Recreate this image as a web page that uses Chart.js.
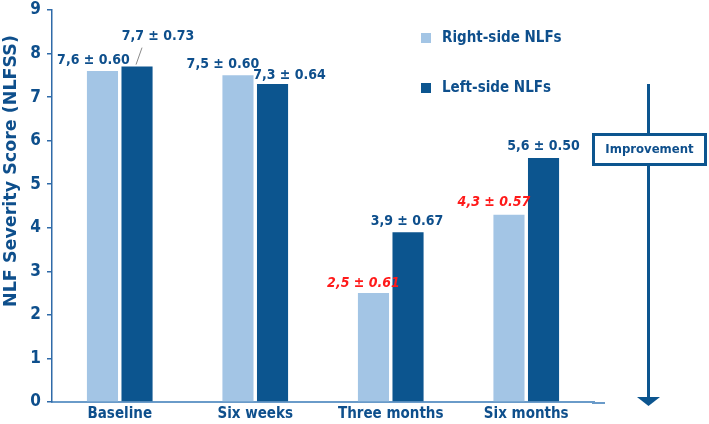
<!DOCTYPE html>
<html>
<head>
<meta charset="utf-8">
<script src="https://cdn.jsdelivr.net/npm/chart.js@4/dist/chart.umd.min.js"></script>
<style>
html,body{margin:0;padding:0;background:#fff;}
#wrap{width:709px;height:424px;position:relative;}
</style>
</head>
<body>
<div id="wrap"><canvas id="c" width="709" height="424"></canvas></div>
<script>
const categories = ['Baseline', 'Six weeks', 'Three months', 'Six months'];
const rightSide = [7.6, 7.5, 2.5, 4.3];
const leftSide = [7.7, 7.3, 3.9, 5.6];
const rightLabels = ['7,6 ± 0.60', '7,5 ± 0.60', '2,5 ± 0.61', '4,3 ± 0.57'];
const leftLabels = ['7,7 ± 0.73', '7,3 ± 0.64', '3,9 ± 0.67', '5,6 ± 0.50'];
const rightHighlight = [false, false, true, true];
const seriesNames = ['Right-side NLFs', 'Left-side NLFs'];
const yTicks = [0, 1, 2, 3, 4, 5, 6, 7, 8, 9];
const yTitle = 'NLF Severity Score (NLFSS)';

const FONT = '"DejaVu Sans Condensed", "DejaVu Sans", sans-serif';
const WIDE = '"DejaVu Sans", sans-serif';
const BLUE_TXT = '#0E4F8C';
const LIGHT = '#A3C5E5';
const DARK = '#0C558F';
const RED = '#FF1A1A';

// label offsets relative to bar top centre (style, not data)
const labelOffsets = [
  [[-9, -11], [-15, -11], [-10, -10], [-15, -12]],
  [[21, -30], [17, -9], [-1, -11], [0, -12]]
];

const annotate = {
  id: 'annotate',
  afterDatasetsDraw(chart) {
    const ctx = chart.ctx;
    ctx.save();
    ctx.textAlign = 'center';
    ctx.textBaseline = 'middle';
    [0, 1].forEach(di => {
      const meta = chart.getDatasetMeta(di);
      meta.data.forEach((bar, i) => {
        const off = labelOffsets[di][i];
        const red = di === 0 && rightHighlight[i];
        ctx.fillStyle = red ? RED : BLUE_TXT;
        ctx.font = (red ? 'italic bold ' : 'bold ') + '14px ' + FONT;
        const txt = di === 0 ? rightLabels[i] : leftLabels[i];
        ctx.fillText(txt, bar.x + off[0], bar.y + off[1]);
      });
    });
    // leader line for baseline left label
    const b = chart.getDatasetMeta(1).data[0];
    ctx.strokeStyle = '#8A8A8A';
    ctx.lineWidth = 1;
    ctx.beginPath();
    ctx.moveTo(b.x - 1, b.y - 2);
    ctx.lineTo(b.x + 5, b.y - 19);
    ctx.stroke();

    // y-axis title
    ctx.save();
    ctx.translate(11, 171);
    ctx.rotate(-Math.PI / 2);
    ctx.fillStyle = BLUE_TXT;
    ctx.font = 'bold 17.5px ' + WIDE;
    ctx.fillText(yTitle, 0, 0);
    ctx.restore();

    // x-axis extension
    const xs = chart.scales.x;
    ctx.strokeStyle = '#6A9BC9';
    ctx.lineWidth = 2;
    ctx.beginPath();
    ctx.moveTo(xs.right - 2, xs.top + 1);
    ctx.lineTo(xs.right + 11, xs.top + 1);
    ctx.stroke();

    // legend
    ctx.textAlign = 'left';
    ctx.font = 'bold 15px ' + FONT;
    [[LIGHT, 33, 37], [DARK, 83, 87]].forEach((l, k) => {
      ctx.fillStyle = l[0];
      ctx.fillRect(421, l[1], 10, 10);
      ctx.fillStyle = BLUE_TXT;
      ctx.fillText(seriesNames[k], 442, l[2] + 1);
    });

    // improvement arrow
    ctx.strokeStyle = DARK;
    ctx.lineWidth = 3;
    ctx.beginPath();
    ctx.moveTo(648.5, 84);
    ctx.lineTo(648.5, 399);
    ctx.stroke();
    ctx.fillStyle = DARK;
    ctx.beginPath();
    ctx.moveTo(637, 397);
    ctx.lineTo(660, 397);
    ctx.lineTo(648.5, 406);
    ctx.closePath();
    ctx.fill();
    ctx.fillStyle = '#fff';
    ctx.fillRect(593, 134, 113, 31);
    ctx.strokeStyle = DARK;
    ctx.lineWidth = 3;
    ctx.strokeRect(593.5, 134.5, 112, 30);
    ctx.fillStyle = BLUE_TXT;
    ctx.textAlign = 'center';
    ctx.font = 'bold 13px ' + FONT;
    ctx.fillText('Improvement', 649.5, 150);
    ctx.restore();
  }
};

new Chart(document.getElementById('c'), {
  type: 'bar',
  data: {
    labels: categories,
    datasets: [
      { label: seriesNames[0], data: rightSide, backgroundColor: LIGHT },
      { label: seriesNames[1], data: leftSide, backgroundColor: DARK }
    ]
  },
  options: {
    responsive: false,
    animation: false,
    devicePixelRatio: 1,
    categoryPercentage: 0.51,
    barPercentage: 0.9,
    layout: { padding: { top: 10, right: 115, bottom: 0, left: 0 } },
    plugins: { legend: { display: false }, tooltip: { enabled: false } },
    scales: {
      x: {
        grid: { display: false, drawTicks: false },
        border: { color: '#6A9BC9', width: 2 },
        ticks: { color: BLUE_TXT, font: { family: FONT, size: 15, weight: 'bold' }, padding: 3 },
        afterFit(s) { s.height = 22; s.paddingLeft = 0; s.paddingRight = 0; }
      },
      y: {
        min: 0, max: 9,
        afterBuildTicks(s) { s.ticks = yTicks.map(v => ({ value: v })); },
        grid: { drawOnChartArea: false, drawTicks: true, tickLength: 5, color: '#2F6AA8', lineWidth: 1.5 },
        border: { color: '#2F6AA8', width: 1.5 },
        ticks: { color: BLUE_TXT, font: { family: FONT, size: 17, weight: 'bold' }, padding: 6 },
        title: { display: false },
        afterFit(s) { s.width = 52; s.paddingTop = 0; s.paddingBottom = 0; }
      }
    }
  },
  plugins: [annotate]
});
</script>
</body>
</html>
